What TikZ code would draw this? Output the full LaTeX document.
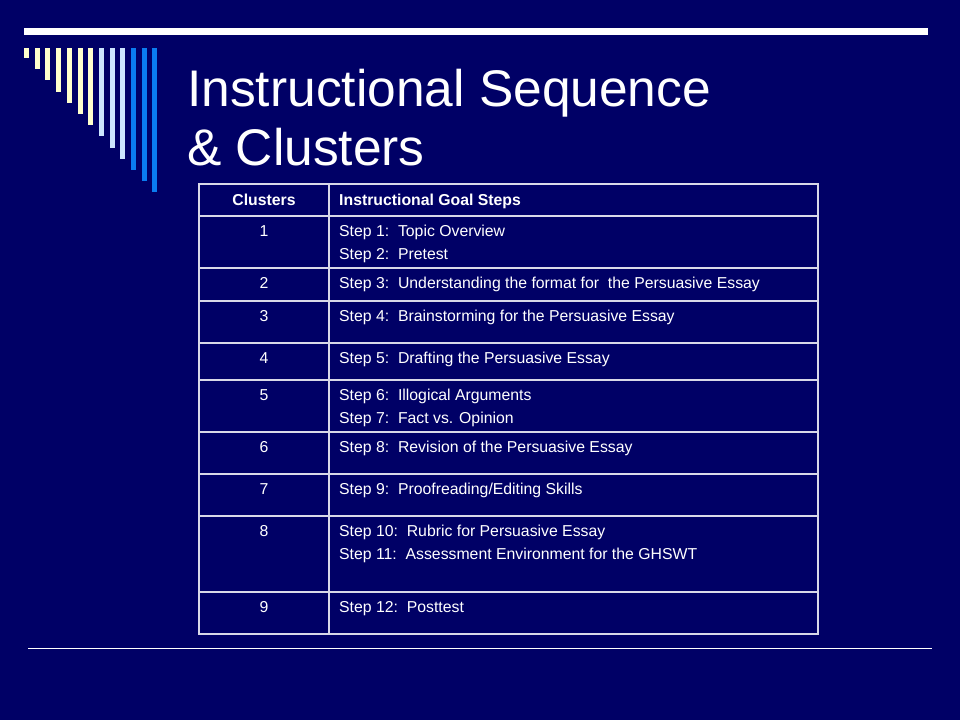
\documentclass[tikz,border=0pt]{standalone}
\usepackage{fontspec}
\setmainfont{Liberation Sans}
\usepackage{tikz}
\definecolor{navy}{HTML}{000066}
\definecolor{barlight}{HTML}{FFFFCC}
\definecolor{barsky}{HTML}{CCE5FF}
\definecolor{barblue}{HTML}{0A7CF0}
\definecolor{gridgray}{HTML}{D8D8E8}
\tikzset{
    cell/.style={anchor=base west, font=\fontsize{15.8}{18}\selectfont, text=white, inner sep=0pt}, % text in the table
    num/.style={cell, anchor=base}, % cluster numbers
    grid/.style={draw=gridgray, line width=1.2pt} % table rules
}

\begin{document}
\begin{tikzpicture}[x=1pt, y=-1pt]
            \fill[navy] (0,0) rectangle (960,720);
            \useasboundingbox (0,0) rectangle (960,720);

            \fill[white] (24,28) rectangle (928,35);
            \foreach \i in {0,...,12} {
                \ifnum\i<7 \def\c{barlight}\else\ifnum\i<10 \def\c{barsky}\else\def\c{barblue}\fi\fi
                \fill[\c] (24+10.7*\i,48) rectangle (29+10.7*\i,58+11.2*\i);}
            \draw[white, line width=0.8pt] (28,648) -- (932,648);

            \node[anchor=base west, font=\fontsize{51.5}{56}\selectfont, text=white, inner sep=0pt] (title) at (187,106) {Instructional Sequence};
            \node[anchor=base west, font=\fontsize{51.5}{56}\selectfont, text=white, inner sep=0pt] (title2) at (187,165) {\& Clusters};

            % table rules
            \draw[grid] (199,184) rectangle (818,634);
            \draw[grid] (329,184) -- (329,634);
            \foreach \y in {216,268,301,343,380,432,474,516,592} {\draw[grid] (199,\y) -- (818,\y);}

            \node[num, font=\bfseries\fontsize{15.8}{18}\selectfont] (h1) at (264,205) {Clusters};
            \node[cell, font=\bfseries\fontsize{15.8}{18}\selectfont] (h2) at (339,205) {Instructional Goal Steps};

            \foreach \n/\y/\a/\b in {1/216/{Step 1:\ \ Topic Overview}/{Step 2:\ \ Pretest},
                2/268/{Step 3:\ \ Understanding the format for\ \ the Persuasive Essay}/{},
                3/301/{Step 4:\ \ Brainstorming for the Persuasive Essay}/{},
                4/343/{Step 5:\ \ Drafting the Persuasive Essay}/{},
                5/380/{Step 6:\ \ Illogical Arguments}/{Step 7:\ \ Fact vs. Opinion},
                6/432/{Step 8:\ \ Revision of the Persuasive Essay}/{},
                7/474/{Step 9:\ \ Proofreading/Editing Skills}/{},
                8/516/{Step 10:\ \ Rubric for Persuasive Essay}/{Step 11:\ \ Assessment Environment for the GHSWT},
                9/592/{Step 12:\ \ Posttest}/{}} {
                \node[num] (c\n) at (264,\y+20) {\n};
                \node[cell] (s\n a) at (339,\y+20) {\a};
                \node[cell] (s\n b) at (339,\y+43) {\b};}
        \end{tikzpicture}
\end{document}
